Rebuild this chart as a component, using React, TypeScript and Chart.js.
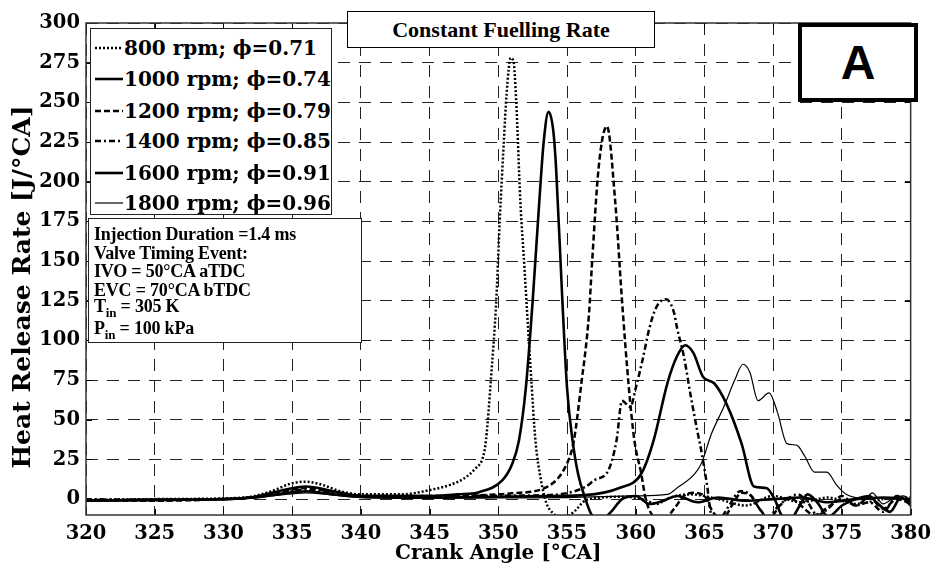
import React, { useEffect, useRef } from "react";
import { Chart, registerables } from "chart.js";

Chart.register(...registerables);

// ---------- DATA ----------
const xTicks = [320, 325, 330, 335, 340, 345, 350, 355, 360, 365, 370, 375, 380];
const yTicks = [0, 25, 50, 75, 100, 125, 150, 175, 200, 225, 250, 275, 300];

const seriesLabels = [
  "800 rpm; ϕ=0.71",
  "1000 rpm; ϕ=0.74",
  "1200 rpm; ϕ=0.79",
  "1400 rpm; ϕ=0.85",
  "1600 rpm; ϕ=0.91",
  "1800 rpm; ϕ=0.96",
];

const angle800 = [320, 325, 330, 332, 333.5, 335, 336, 337, 338.5, 340, 343, 345, 346.5, 347.5, 348.3, 348.9, 349.1, 349.5, 349.85, 350.1, 350.4, 350.6, 350.9, 351.1, 351.3, 351.6, 351.9, 352.1, 352.4, 352.7, 353.1, 353.5, 354.0, 354.7, 355.5, 356.3, 357.5, 359, 360.5, 361.5, 362.5, 364, 366, 368, 370, 372, 374, 376, 378, 380];
const hrr800 = [-0.5, 0, 0.5, 1.5, 5, 10, 11, 9.5, 5, 3, 3, 5.7, 9, 13, 19, 27, 37, 80, 125, 175, 225, 255, 278, 276, 251, 188, 146, 117, 75, 37, 12, -2.5, -9, -12, -8, -1, 1, 1.5, 0, -3, 1, 3, 0, -4, 2, -2, 1, -3, 0, 1];

const angle1000 = [320, 325, 330, 332, 334, 336, 338, 340, 343, 345, 347, 348.6, 350.3, 351, 351.5, 352, 352.5, 353, 353.3, 353.65, 354, 354.2, 354.66, 355, 355.4, 355.8, 356.3, 356.8, 357.5, 358.2, 359, 360, 361, 362, 363, 364.5, 366, 368, 370, 372, 374, 376, 378, 380];
const hrr1000 = [-1, -0.5, 0, 1, 5, 8, 5, 2, 2, 2, 3, 4.4, 12, 22, 37, 70, 125, 190, 225, 244, 232, 209, 125, 70, 37, 16, 1, -10, -13, -8, 0, 2, -3, -1, 2, -2, 1, -1, 0, 1, -2, 0, 1, 0];

const angle1200 = [320, 325, 330, 332, 334, 336, 338, 340, 345, 350, 351, 353.5, 355.1, 355.5, 356, 356.6, 356.8, 357.3, 357.9, 358.5, 359, 359.5, 359.9, 360.4, 360.7, 361.2, 362, 362.8, 363.5, 364.2, 365, 365.6, 366.3, 367, 367.7, 368.4, 369, 369.7, 370.5, 371.2, 372, 373, 374, 375, 376, 377, 378, 379, 380];
const hrr1200 = [-0.5, -1, 0, 1, 4, 7, 4.5, 2, 2, 3, 3.7, 7.5, 24.5, 37, 70, 117, 146, 209, 235, 188, 125, 70, 37, 16, 1, -10, -13, -6, 2, 4, 2, -8, -13, -4, 4, 2, -6, -12, -4, 1, -4, -10, -5, 0, -4, 1, -6, 0, -3];

const angle1400 = [320, 325, 330, 332, 334, 336, 338, 340, 345, 350, 353.5, 356.3, 357, 358, 358.6, 359, 359.6, 360, 360.5, 361, 361.5, 362.2, 362.8, 363, 363.5, 364, 364.5, 364.8, 365.2, 365.5, 366, 366.8, 367.6, 368.3, 369, 369.6, 370.3, 371, 371.8, 372.5, 373.2, 374, 375, 376, 377, 378, 379, 380];
const hrr1400 = [0, -0.5, 0, 1, 3.5, 6, 4, 2, 2, 2.2, 2.5, 7.5, 12, 18, 37, 62, 58, 70, 88, 108, 121, 126, 117, 108, 90, 65, 42, 29, 8, -10, -13, -4, 5, 3, -6, -12, -5, 0, 3, -2, -10, -6, 2, -4, -2, -8, 2, -2];

const angle1600 = [320, 325, 330, 332, 334, 336, 338, 340, 345, 350, 354, 356.3, 358.8, 360.4, 361.3, 362.3, 363, 363.6, 364.2, 364.9, 365.7, 366.6, 367.7, 368.6, 369.5, 370.1, 370.6, 371.2, 372, 372.5, 373.2, 374, 375, 376, 377, 377.5, 378.5, 379.3, 380];
const hrr1600 = [-1, -0.5, 0, 1, 3, 5, 3, 1.5, 1, 1.5, 2, 2.5, 7, 16, 37, 73, 90, 97, 92, 77, 73, 60, 35, 8, 7, 0, -10, -13, -3, 3, -2, -11, -4, 0, 2, -2, -8, 1, -4];

const angle1800 = [320, 325, 330, 332, 334, 336, 338, 340, 345, 350, 355, 360, 362.3, 363, 364.3, 364.8, 365.5, 366.4, 367.2, 367.8, 368.3, 368.9, 369.7, 370.3, 371, 371.7, 372.3, 373, 373.9, 374.6, 375.3, 376, 376.7, 377.2, 378, 378.8, 379.5, 380];
const hrr1800 = [-0.5, 0, 0, 0.5, 2.5, 4, 2.5, 1, 0.5, 0.8, 1, 2, 3, 7, 16, 23, 41, 58, 75, 85, 80, 62, 67, 55, 35, 34, 27, 17, 17, 9, 3, 1, 0, 4, -3, 1, 2, -1];

const seriesAngles = [angle800, angle1000, angle1200, angle1400, angle1600, angle1800];
const seriesHrr = [hrr800, hrr1000, hrr1200, hrr1400, hrr1600, hrr1800];

// ---------- STYLES ----------
const lineStyles = [
  { width: 2.5, dash: [2, 2] },
  { width: 2.6, dash: [] as number[] },
  { width: 2.5, dash: [6, 3] },
  { width: 2.5, dash: [6, 3, 2, 3] },
  { width: 2.6, dash: [] as number[] },
  { width: 1.2, dash: [] as number[] },
];

const framePlugin = {
  id: "frameTicks",
  afterDatasetsDraw(chart: any) {
    const { ctx, chartArea } = chart;
    const { left, right, top, bottom } = chartArea;
    const xs = chart.scales.x;
    const ys = chart.scales.y;
    ctx.save();
    ctx.strokeStyle = "#000";
    ctx.lineWidth = 1;
    ctx.setLineDash([]);
    const tl = 6;
    ctx.beginPath();
    xTicks.forEach((v) => {
      const px = Math.round(xs.getPixelForValue(v)) + 0.5;
      ctx.moveTo(px, bottom);
      ctx.lineTo(px, bottom - tl);
      ctx.moveTo(px, top);
      ctx.lineTo(px, top + tl);
    });
    yTicks.forEach((v) => {
      const py = Math.round(ys.getPixelForValue(v)) + 0.5;
      ctx.moveTo(left, py);
      ctx.lineTo(left + tl, py);
      ctx.moveTo(right, py);
      ctx.lineTo(right - tl, py);
    });
    ctx.stroke();
    ctx.strokeStyle = "#333";
    ctx.lineWidth = 1.5;
    ctx.strokeRect(left, top, right - left, bottom - top);
    ctx.restore();
  },
};

function LegendSample({ idx }: { idx: number }) {
  const s = lineStyles[idx];
  return (
    <svg width={28} height={10} style={{ display: "block" }}>
      <line
        x1={0}
        y1={5}
        x2={28}
        y2={5}
        stroke="#000"
        strokeWidth={s.width}
        strokeDasharray={s.dash.length ? s.dash.join(",") : undefined}
      />
    </svg>
  );
}

export default function App() {
  const canvasRef = useRef<HTMLCanvasElement | null>(null);

  useEffect(() => {
    const canvas = canvasRef.current;
    if (!canvas) return;
    const datasets = seriesLabels.map((label, i) => ({
      label,
      data: seriesAngles[i].map((a, j) => ({ x: a, y: seriesHrr[i][j] })),
      borderColor: "#000",
      backgroundColor: "#000",
      borderWidth: lineStyles[i].width,
      borderDash: lineStyles[i].dash,
      pointRadius: 0,
      cubicInterpolationMode: "monotone" as const,
      fill: false,
    }));
    const chart = new Chart(canvas, {
      type: "line",
      data: { datasets },
      plugins: [framePlugin],
      options: {
        animation: false,
        responsive: false,
        devicePixelRatio: 1,
        parsing: false as any,
        layout: { padding: { top: 23, right: 20, left: 0, bottom: 0 } },
        plugins: {
          legend: { display: false },
          tooltip: { enabled: false },
          title: { display: false },
        },
        scales: {
          x: {
            type: "linear",
            min: 320,
            max: 380,
            afterBuildTicks: (axis: any) => {
              axis.ticks = xTicks.map((v) => ({ value: v }));
            },
            afterFit: (axis: any) => {
              axis.height = 51;
            },
            grid: { color: "#222", lineWidth: 1, drawTicks: false },
            border: { display: false, dash: [12, 9] },
            ticks: {
              color: "#000",
              padding: 7,
              maxRotation: 0,
              font: { family: "'DejaVu Serif'", size: 19.5, weight: "bold" },
            },
            title: {
              display: true,
              text: "Crank Angle [°CA]",
              color: "#000",
              padding: { top: 0, bottom: 0 },
              font: { family: "'DejaVu Serif'", size: 20, weight: "bold" },
            },
          },
          y: {
            type: "linear",
            min: -10,
            max: 300,
            afterBuildTicks: (axis: any) => {
              axis.ticks = yTicks.map((v) => ({ value: v }));
            },
            afterFit: (axis: any) => {
              axis.width = 86;
            },
            grid: { color: "#222", lineWidth: 1, drawTicks: false },
            border: { display: false, dash: [12, 9] },
            ticks: {
              color: "#000",
              padding: 6,
              font: { family: "'DejaVu Serif'", size: 19.5, weight: "bold" },
            },
            title: { display: false },
          },
        },
      } as any,
    });
    return () => chart.destroy();
  }, []);

  const legendRowCenters = [19, 50, 82, 112, 144, 174];
  const annoFont = "'Liberation Serif', 'Times New Roman', serif";

  return (
    <div
      style={{
        position: "fixed",
        left: 0,
        top: 0,
        width: 938,
        height: 566,
        background: "#fff",
        overflow: "hidden",
      }}
    >
      <canvas ref={canvasRef} width={938} height={566} style={{ display: "block", width: 938, height: 566 }} />

      {/* Y axis title */}
      <div
        style={{
          position: "absolute",
          left: 22 - 250,
          top: 287 - 15,
          width: 500,
          height: 30,
          lineHeight: "30px",
          textAlign: "center",
          transform: "rotate(-90deg)",
          transformOrigin: "50% 50%",
          whiteSpace: "nowrap",
          fontFamily: "'DejaVu Serif', serif",
          fontWeight: "bold",
          fontSize: 25,
          color: "#000",
        }}
      >
        Heat Release Rate [J/°CA]
      </div>

      {/* Title box */}
      <div
        style={{
          position: "absolute",
          left: 347,
          top: 11,
          width: 308,
          height: 37,
          boxSizing: "border-box",
          border: "1.5px solid #000",
          background: "#fff",
          display: "flex",
          alignItems: "center",
          justifyContent: "center",
          fontFamily: annoFont,
          fontWeight: "bold",
          fontSize: 22,
          color: "#000",
        }}
      >
        Constant Fuelling Rate
      </div>

      {/* A box */}
      <div
        style={{
          position: "absolute",
          left: 798,
          top: 23,
          width: 120,
          height: 79,
          boxSizing: "border-box",
          border: "4px solid #000",
          background: "#fff",
          display: "flex",
          alignItems: "center",
          justifyContent: "center",
          fontFamily: "'Liberation Sans', Arial, sans-serif",
          fontWeight: "bold",
          fontSize: 48,
          color: "#000",
        }}
      >
        A
      </div>

      {/* Legend box */}
      <div
        style={{
          position: "absolute",
          left: 90,
          top: 28,
          width: 242,
          height: 187,
          boxSizing: "border-box",
          border: "1.5px solid #222",
          background: "#fff",
        }}
      >
        {seriesLabels.map((lab, i) => (
          <div
            key={lab}
            style={{
              position: "absolute",
              left: 4,
              top: legendRowCenters[i] - 15.5,
              height: 31,
              display: "flex",
              alignItems: "center",
              whiteSpace: "nowrap",
              fontFamily: "'DejaVu Serif', serif",
              fontWeight: "bold",
              fontSize: 20,
              color: "#000",
            }}
          >
            <LegendSample idx={i} />
            <span style={{ marginLeft: 1 }}>{lab}</span>
          </div>
        ))}
      </div>

      {/* Annotation box */}
      <div
        style={{
          position: "absolute",
          left: 88,
          top: 218,
          width: 274,
          height: 125,
          boxSizing: "border-box",
          border: "1.5px solid #222",
          background: "#fff",
          fontFamily: annoFont,
          fontWeight: "bold",
          fontSize: 18,
          color: "#000",
          letterSpacing: -0.2,
        }}
      >
        {[
          { t: 15, c: <>Injection Duration =1.4 ms</> },
          { t: 34, c: <>Valve Timing Event:</> },
          { t: 52, c: <>IVO = 50°CA aTDC</> },
          { t: 71, c: <>EVC = 70°CA bTDC</> },
          {
            t: 87,
            c: (
              <>
                T<sub style={{ fontSize: 13, verticalAlign: -5 }}>in</sub> = 305 K
              </>
            ),
          },
          {
            t: 109,
            c: (
              <>
                P<sub style={{ fontSize: 13, verticalAlign: -5 }}>in</sub> = 100 kPa
              </>
            ),
          },
        ].map((row, i) => (
          <div
            key={i}
            style={{
              position: "absolute",
              left: 5,
              top: row.t - 10,
              height: 20,
              lineHeight: "20px",
              whiteSpace: "nowrap",
            }}
          >
            {row.c}
          </div>
        ))}
      </div>
    </div>
  );
}
